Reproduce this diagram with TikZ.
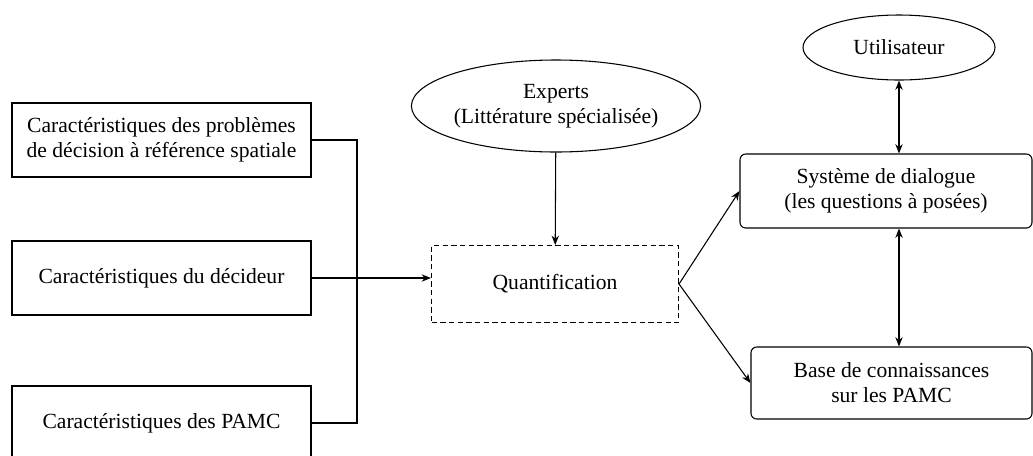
\documentclass[tikz,border=0pt]{standalone}
\usepackage{fontspec}
\setmainfont{Liberation Serif}
\usetikzlibrary{positioning, arrows.meta, shapes.geometric}

\begin{document}
\begin{tikzpicture}[x=0.75pt, y=-0.75pt, line width=0.8pt]
	\tikzset{
		carac/.style={
				rectangle, draw, minimum width=224.25pt, minimum height=55.5pt,
				inner sep=0pt, font=\fontsize{16.2}{18.75}\selectfont, align=center,
			},
		acteur/.style={
				ellipse, draw, inner sep=0pt,
				font=\fontsize{16.2}{18.75}\selectfont, align=center,
			},
		module/.style={
				rectangle, draw, rounded corners=1.5mm, inner sep=0pt,
				font=\fontsize{16.2}{18.75}\selectfont, align=center,
			},
		rel/.style={
				->, >={Stealth[length=7pt, width=5.5pt]}, },
		birel/.style={
				<->, >={Stealth[length=7pt, width=5.5pt]}, },
	}
	\useasboundingbox (0,0) rectangle (1033,455);
	\clip (0,0) rectangle (1033,455);

	\node[carac] (pb) at (161.5,140) {Caractéristiques des problèmes\\ de décision à référence spatiale};
	\node[carac] (dec) at (161.5,278) {Caractéristiques du décideur};
	\node[carac] (pamc) at (161.5,423) {Caractéristiques des PAMC};
	\coordinate (bus) at (357,278);

	\node[module, rounded corners=0pt, dash pattern=on 4pt off 2.5pt,
		minimum width=185.25pt, minimum height=57.75pt] (quant) at (555,284) {Quantification};
	\node[acteur, minimum width=192.75pt, minimum height=69pt] (experts) at (556,106)
	{Experts\\ (Littérature spécialisée)};

	\node[acteur, minimum width=144pt, minimum height=48.75pt] (user) at (899,47.5) {Utilisateur};
	\node[module, minimum width=219pt, minimum height=55.5pt] (dial) at (886,191)
	{Système de dialogue\\ (les questions à posées)};
	\node[module, minimum width=210.75pt, minimum height=54pt] (base) at (891.5,383)
	{Base de connaissances\\ sur les PAMC};

	\draw (pb.east) -| (bus);
	\draw (pamc.east) -| (bus);
	\draw[rel] (dec.east) -- (dec.east -| quant.west);
	\draw[rel] (experts) -- (quant);

	\draw[rel] (quant.east) -- (dial.west);
	\draw[rel] (quant.east) -- (base.west);
	\draw[birel] (user.south) -- (user.south |- dial.north);
	\draw[birel] (dial.south -| user.south) -- (base.north -| user.south);
\end{tikzpicture}
\end{document}
